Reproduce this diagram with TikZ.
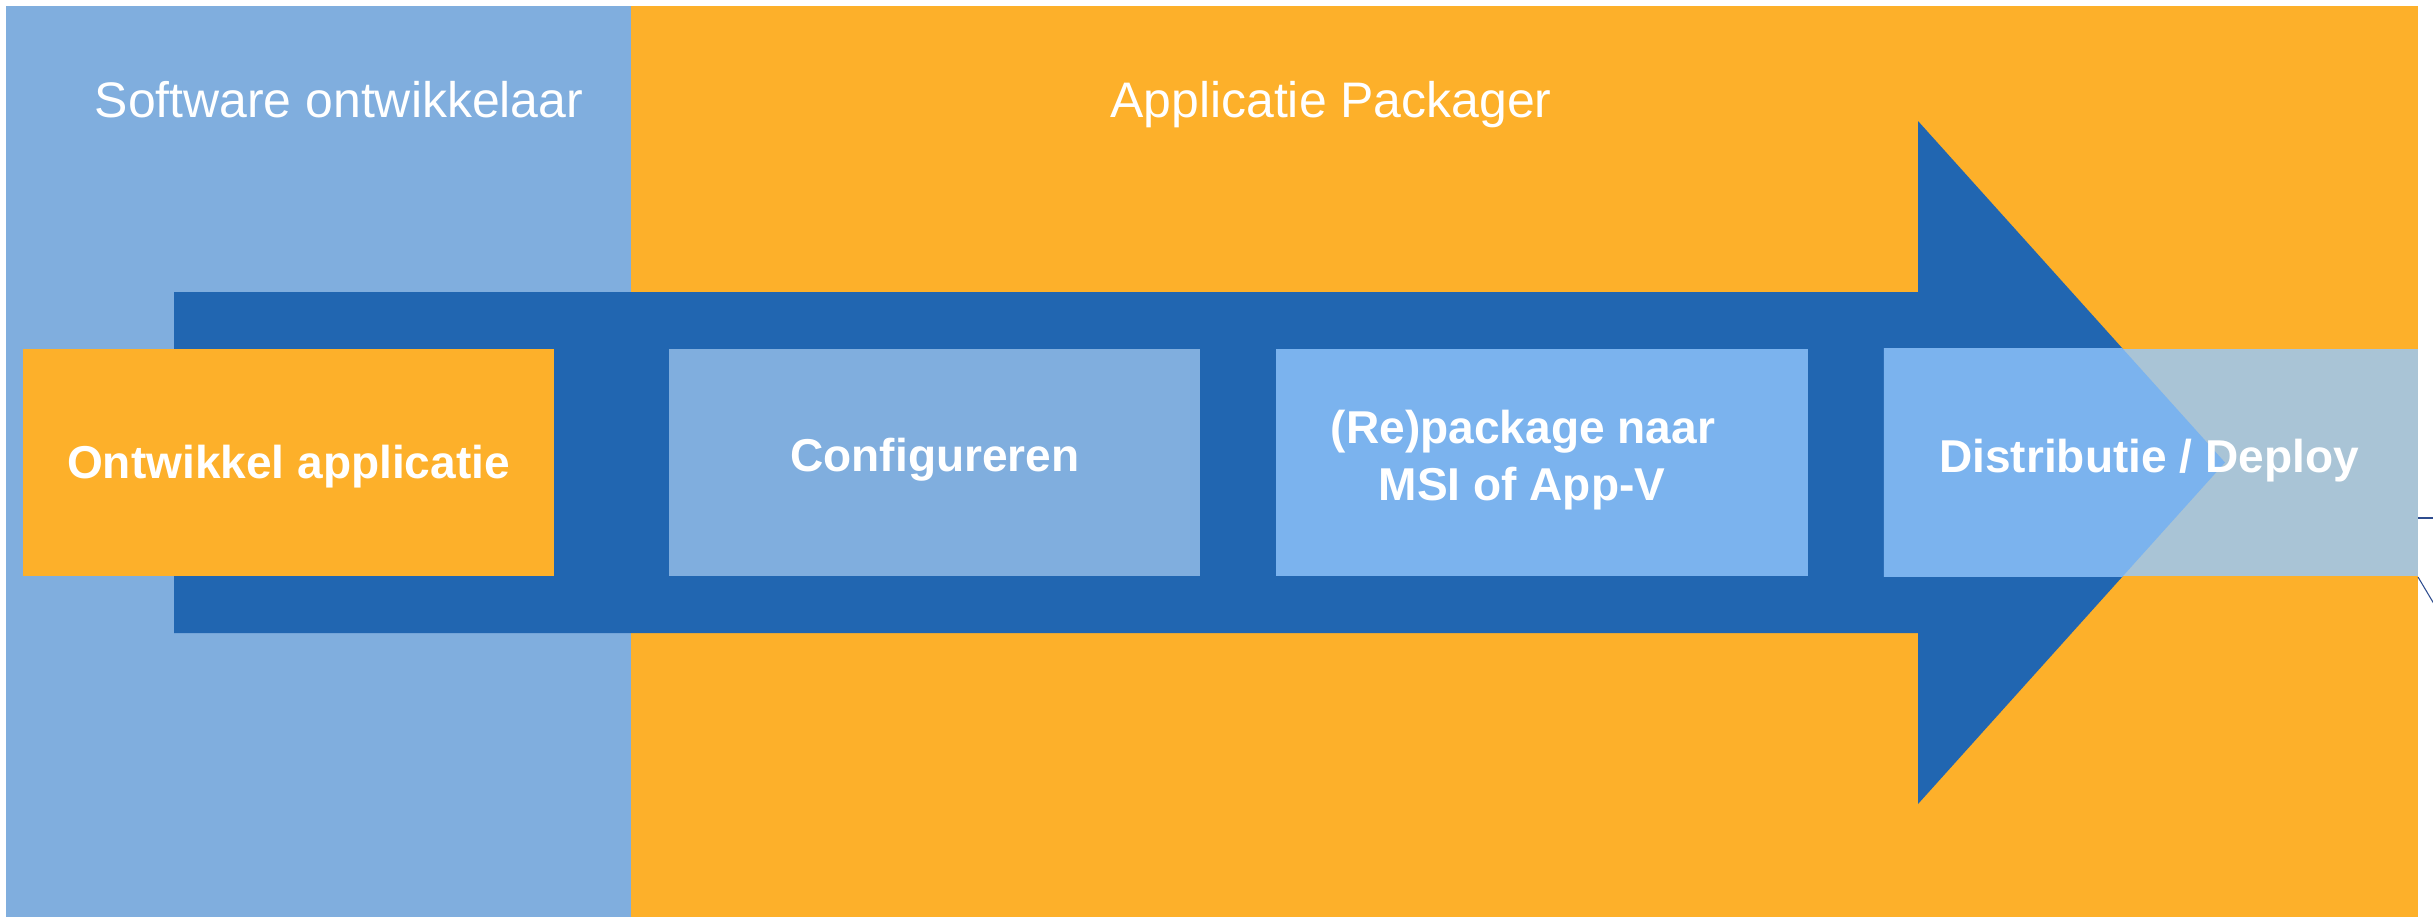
\documentclass[tikz,border=0pt]{standalone}
\usepackage{fontspec}
\setmainfont{Liberation Sans}
\definecolor{panelblue}{HTML}{80AEDE}
\definecolor{panelorange}{HTML}{FDB02A}
\definecolor{darkblue}{HTML}{2166B1}
\definecolor{brightblue}{HTML}{7BB3EE}
\definecolor{greyblue}{HTML}{A9C4D6}
\definecolor{navy}{HTML}{2F4D8F}
\tikzset{
  stepbox/.style={fill=#1, draw=none, inner sep=0pt, outer sep=0pt, minimum width=5.31cm, minimum height=2.27cm},
  headtext/.style={text=white, inner sep=0pt, font=\fontsize{14.2}{17}\selectfont},
  boxtext/.style={text=white, inner sep=0pt, align=center, font=\fontsize{13.1}{16.2}\selectfont\bfseries},
  wire/.style={draw=navy, line width=0.3pt}
}
\begin{document}
\begin{tikzpicture}[x=0.01cm, y=-0.01cm]
\useasboundingbox (0,0) rectangle (2433,917);
\fill[white] (0,0) rectangle (2433,917);
% swimlane panels
\fill[panelblue] (6,6) rectangle (631,917);
\fill[panelorange] (631,6) rectangle (2418,917);
% big arrow
\fill[darkblue] (174,292) -- (1918,292) -- (1918,121) -- (2225,462.5) -- (1918,804) -- (1918,633) -- (174,633) -- cycle;
% step boxes
\node[stepbox=panelorange] (b1) at (288.5,462.5) {};
\node[stepbox=panelblue] (b2) at (934.5,462.5) {};
\node[stepbox=brightblue, minimum width=5.32cm] (b3) at (1542,462.5) {};
\node[stepbox=greyblue, minimum width=5.34cm] (b4) at (2151,462.5) {};
\begin{scope}
  \clip (b4.north west) rectangle (b4.south east);
  \fill[brightblue] (1870,121) -- (1918,121) -- (2225,462.5) -- (1918,804) -- (1870,804) -- cycle;
\end{scope}
% headers
\node[headtext, anchor=base west] (h1) at (94,117) {Software ontwikkelaar};
\node[headtext, anchor=base] (h2) at (1331,117) {Applicatie Packager};
% box texts
\node[boxtext, anchor=base] (t1) at (288.5,478) {Ontwikkel applicatie};
\node[boxtext, anchor=base] (t2) at (935,471) {Configureren};
\node[boxtext, anchor=base] (t3a) at (1523,443) {(Re)package naar};
\node[boxtext, anchor=base] (t3b) at (1522,500) {MSI of App-V};
\node[boxtext, anchor=base] (t4) at (2149,472) {Distributie / Deploy};
% connector stubs leaving the frame
\coordinate (e1) at (2418,518);
\coordinate (e2) at (2440,518);
\coordinate (e3) at (2418,577);
\coordinate (e4) at (2440,614);
\draw[wire] (e1) -- (e2);
\draw[wire] (e3) -- (e4);
\end{tikzpicture}
\end{document}
